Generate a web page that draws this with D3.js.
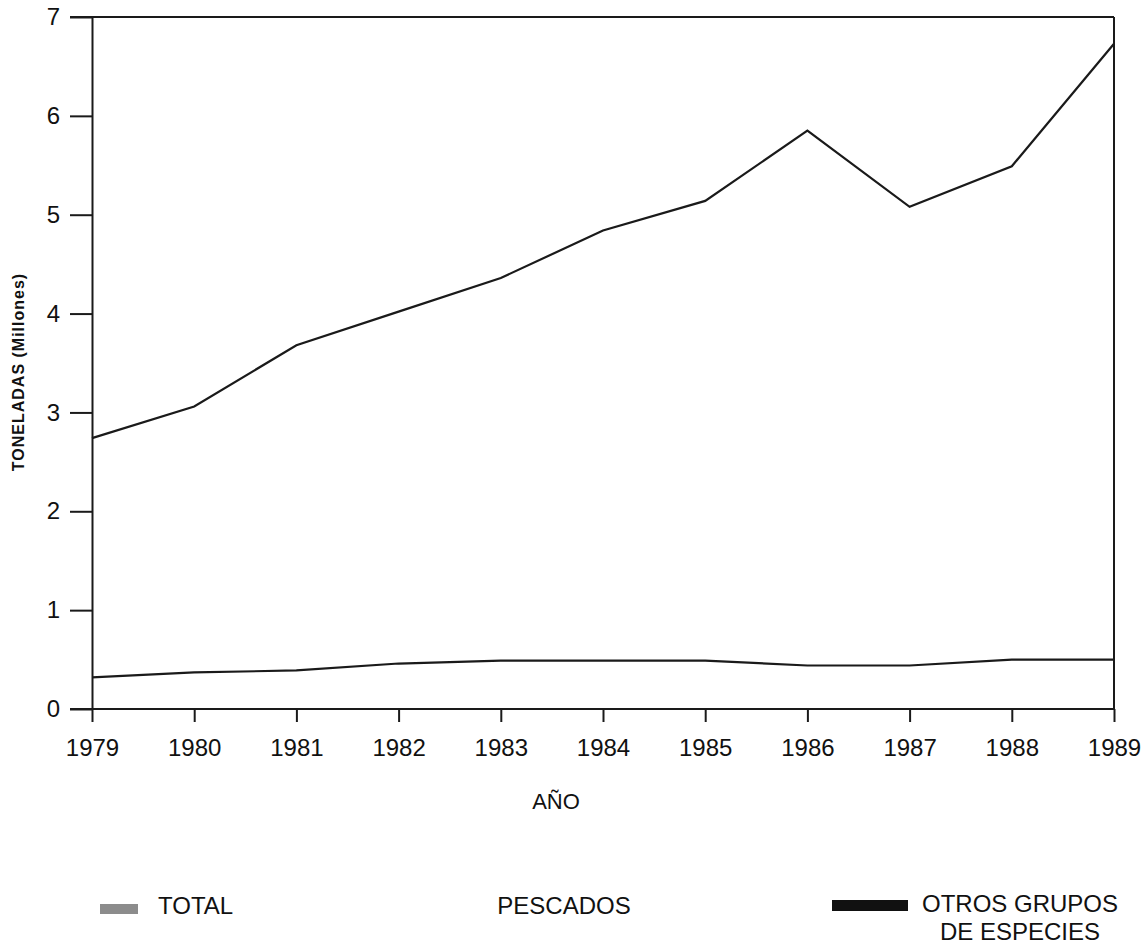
<!DOCTYPE html>
<html>
<head>
<meta charset="utf-8">
<script src="https://cdn.jsdelivr.net/npm/d3@7"></script>
<style>
  body { margin: 0; background: #fff; }
  svg { display: block; font-family: "Liberation Sans", Arial, sans-serif; }
  .axis path, .axis line { stroke: #1a1a1a; stroke-width: 2; }
  .axis text { font-size: 24px; fill: #111; }
</style>
</head>
<body>
<svg id="chart" width="1144" height="949"></svg>
<script>
// data
const years = [1979, 1980, 1981, 1982, 1983, 1984, 1985, 1986, 1987, 1988, 1989];
const total = [2.74, 3.06, 3.68, 4.02, 4.36, 4.84, 5.14, 5.85, 5.08, 5.49, 6.73];
const otros = [0.32, 0.37, 0.39, 0.46, 0.49, 0.49, 0.49, 0.44, 0.44, 0.50, 0.50];
const yTicks = [0, 1, 2, 3, 4, 5, 6, 7];

const margin = {left: 92, right: 30, top: 17, bottom: 240}
    , width = 1144
    , height = 949
    , svg = d3.select("#chart");

const x = d3.scaleLinear()
    .domain([1979, 1989])
    .range([margin.left, width - margin.right]);
const y = d3.scaleLinear()
    .domain([0, 7])
    .range([height - margin.bottom, margin.top]);

// frame (top + right)
svg.append("line")
    .attr("x1", x(1979) - 22).attr("x2", x(1989))
    .attr("y1", y(7)).attr("y2", y(7))
    .attr("stroke", "#1a1a1a").attr("stroke-width", 2);
svg.append("line")
    .attr("x1", x(1989)).attr("x2", x(1989))
    .attr("y1", y(7)).attr("y2", y(0))
    .attr("stroke", "#1a1a1a").attr("stroke-width", 2);

// x axis
svg.append("g")
    .attr("class", "axis")
    .attr("transform", "translate(0," + y(0) + ")")
    .call(d3.axisBottom(x).tickValues(years).tickFormat(d3.format("d"))
        .tickSize(13).tickSizeOuter(0).tickPadding(17))
    .call(g => g.select(".domain").attr("d", "M" + (x(1979) - 22) + ",0H" + x(1989)));

// y axis
svg.append("g")
    .attr("class", "axis")
    .attr("transform", "translate(" + x(1979) + ",0)")
    .call(d3.axisLeft(y).tickValues(yTicks).tickFormat(d3.format("d"))
        .tickSize(22).tickSizeOuter(0).tickPadding(10));

// lines
const line = d3.line()
    .x((d, i) => x(years[i]))
    .y(d => y(d));
svg.append("path")
    .datum(total)
    .attr("fill", "none")
    .attr("stroke", "#1a1a1a")
    .attr("stroke-width", 2.2)
    .attr("d", line);
svg.append("path")
    .datum(otros)
    .attr("fill", "none")
    .attr("stroke", "#1a1a1a")
    .attr("stroke-width", 2.2)
    .attr("d", line);

// axis titles
svg.append("text")
    .attr("transform", "translate(24,372) rotate(-90)")
    .attr("text-anchor", "middle")
    .attr("font-size", 16)
    .attr("font-weight", "bold")
    .attr("letter-spacing", 1)
    .attr("fill", "#111")
    .text("TONELADAS  (Millones)");
svg.append("text")
    .attr("x", 556).attr("y", 809)
    .attr("text-anchor", "middle")
    .attr("font-size", 22)
    .attr("fill", "#111")
    .text("AÑO");

// legend
const legend = svg.append("g").attr("font-size", 24).attr("fill", "#111");
legend.append("rect")
    .attr("x", 100).attr("y", 904).attr("width", 38).attr("height", 10)
    .attr("fill", "#8c8c8c");
legend.append("text").attr("x", 158).attr("y", 914).text("TOTAL");
legend.append("text").attr("x", 564).attr("y", 914).attr("text-anchor", "middle").text("PESCADOS");
legend.append("rect")
    .attr("x", 832).attr("y", 900).attr("width", 76).attr("height", 11)
    .attr("fill", "#111");
legend.append("text").attr("x", 1020).attr("y", 912).attr("text-anchor", "middle").text("OTROS GRUPOS");
legend.append("text").attr("x", 1020).attr("y", 940).attr("text-anchor", "middle").text("DE ESPECIES");
</script>
</body>
</html>
